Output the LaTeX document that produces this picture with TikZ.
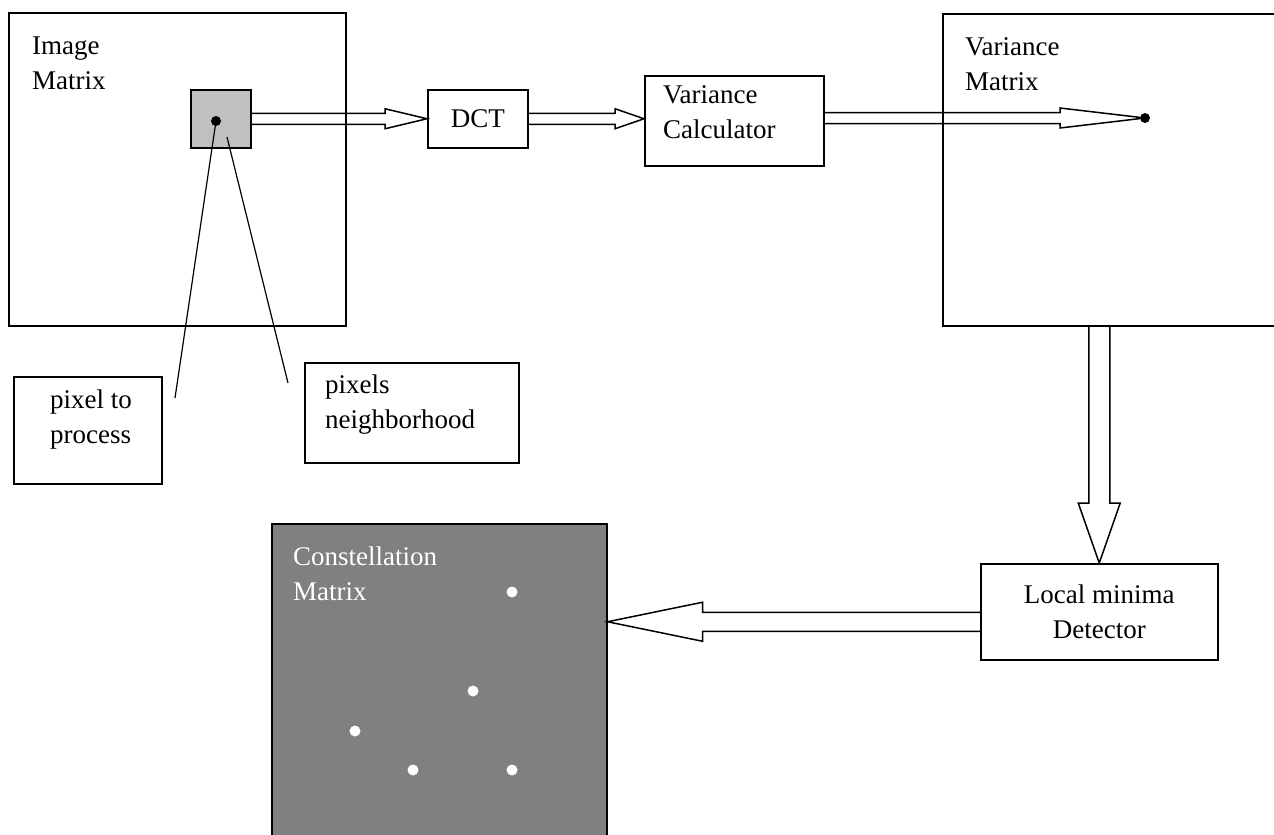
\documentclass[tikz,border=0pt]{standalone}
\usepackage{fontspec}
\setmainfont{Liberation Serif}
\usepackage{tikz}
\usetikzlibrary{calc, positioning}
\tikzset{font=\fontsize{27}{35}\selectfont}
\tikzset{box/.style={draw, line width=1.5pt, inner sep=0pt, anchor=north west}}
\tikzset{lbl/.style={inner sep=0pt, align=left}}
\tikzset{blk/.style={draw, line width=1.5pt, line join=miter}}
\tikzset{dot/.style={shape=circle, fill, inner sep=0pt, minimum size=10pt}}
\tikzset{wdot/.style={dot, fill=white, minimum size=11pt}}
\newcommand{\hollowarrow}[5]{%
  \coordinate (hb) at ($(#2)!#5!(#1)$);
  \path[blk] ($(#1)!#3!90:(#2)$) -- ($(hb)!#3!-90:(#1)$) -- ($(hb)!#4!-90:(#1)$)
    -- (#2) -- ($(hb)!#4!90:(#1)$) -- ($(hb)!#3!90:(#1)$) -- ($(#1)!#3!-90:(#2)$);}
\definecolor{lightgrey}{HTML}{C0C0C0}
\definecolor{midgrey}{HTML}{808080}

\begin{document}
\begin{tikzpicture}[x=1pt, y=-1pt]
      \useasboundingbox (0,0) rectangle (1274,835);
      \node[box, minimum width=337pt, minimum height=313pt] (im) at (8,12) {};
      \node[lbl, below right=25pt and 24pt of im.north west] {Image\\Matrix};
      \node[box, fill=lightgrey, minimum width=60pt, minimum height=58pt] (grey) at (190,89) {};
      \node[box, minimum width=100pt, minimum height=58pt] (dct) at (427,89) {DCT};
      \node[box, minimum width=179pt, minimum height=90pt] (vc) at (644,75) {};
      \node[lbl, below right=10pt and 19pt of vc.north west] {Variance\\Calculator};
      \node[box, minimum width=360pt, minimum height=312pt] (vm) at (942,13) {};
      \node[lbl, below right=24pt and 23pt of vm.north west] {Variance\\Matrix};
      \node[box, minimum width=237pt, minimum height=96pt, align=center] (ld) at (980,563) {Local minima\\Detector};
      \node[box, minimum width=148pt, minimum height=107pt] (pp) at (13,376) {};
      \node[lbl, below right=14pt and 37pt of pp.north west] {pixel to\\process};
      \node[box, minimum width=214pt, minimum height=100pt] (pn) at (304,362) {};
      \node[lbl, below right=13pt and 21pt of pn.north west] {pixels\\neighborhood};
      \node[box, fill=midgrey, minimum width=335pt, minimum height=330pt] (cm) at (271,523) {};
      \node[lbl, text=white, below right=24pt and 22pt of cm.north west] {Constellation\\Matrix};

      \coordinate (pdot) at (216,121);
      \coordinate (pnstart) at (227,137);
      \coordinate (ppend) at (175,398);
      \coordinate (pnend) at (288,383);
      \draw[line width=1.2pt] (pdot) -- (ppend);
      \draw[line width=1.2pt] (pnstart) -- (pnend);
      \node[dot] (pd) at (pdot) {};
      \node[dot] (vd) at (1145,118) {};

      \hollowarrow{grey.east}{dct.west}{5.5pt}{10pt}{42pt}
      \hollowarrow{dct.east}{dct.east -| vc.west}{5.5pt}{10pt}{29pt}
      \hollowarrow{vd -| vc.east}{vd}{5.5pt}{10pt}{85pt}
      \hollowarrow{ld.north |- vm.south}{ld.north}{10.5pt}{21pt}{60pt}
      \coordinate (ldw) at ($(ld.west)+(0,10)$);
      \hollowarrow{ldw}{ldw -| cm.east}{9.5pt}{19.5pt}{95pt}

      \foreach \x/\y in {512/592, 473/691, 355/731, 413/770, 512/770}
        \node[wdot] at (\x,\y) {};
    \end{tikzpicture}
\end{document}
